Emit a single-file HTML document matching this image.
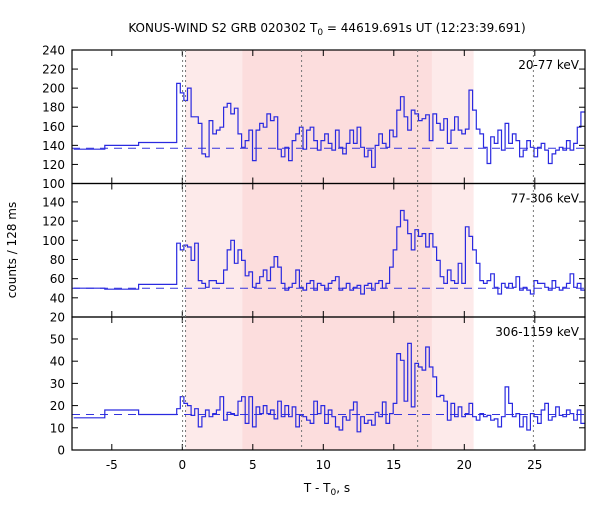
<!DOCTYPE html>
<html><head><meta charset="utf-8"><style>
body{margin:0;background:#fff;}
svg text{font-family:"DejaVu Sans","Liberation Sans",sans-serif;font-size:12px;fill:#000;}
</style></head><body>
<svg id="chart" width="600" height="500" viewBox="0 0 600 500" xmlns="http://www.w3.org/2000/svg">
<text x="327" y="32" text-anchor="middle">KONUS-WIND S2 GRB 020302 T<tspan font-size="9" dy="3">0</tspan><tspan dy="-3"> = 44619.691s UT (12:23:39.691)</tspan></text>
<text x="327" y="492" text-anchor="middle">T - T<tspan font-size="9" dy="3">0</tspan><tspan dy="-3">, s</tspan></text>
<text transform="translate(16,250) rotate(-90)" text-anchor="middle">counts / 128 ms</text>
<g id="g"></g>
</svg>
<script>
const binStart = -0.4, binWidth = 0.256;
const preEdges = [-7.7, -5.5, -3.1, -0.4];
const prePanel1 = [136, 140, 143];
const prePanel2 = [50, 49, 54];
const prePanel3 = [14.5, 18, 16];
const bgLevels = [137, 50, 16];
const panel1 = [205,195,187,200,170,170,163,131,128,166,152,156,159,180,184,173,179,152,138,145,156,124,156,163,159,173,166,170,136,128,138,124,145,152,159,136,156,159,145,135,145,152,142,135,156,138,131,142,156,142,159,138,128,135,117,140,152,142,138,156,149,177,191,170,156,177,173,166,168,172,145,173,163,156,168,142,156,170,156,152,157,198,177,157,152,138,121,149,142,156,135,163,142,152,145,128,135,145,138,128,138,142,135,121,131,135,138,135,145,135,142,159,175];
const panel2 = [97,90,95,93,79,97,58,55,51,58,58,55,55,69,90,100,76,90,79,63,67,51,55,62,69,58,72,83,72,55,48,51,55,69,51,48,55,58,48,55,53,48,55,58,62,48,50,55,48,51,53,44,53,55,48,55,58,50,55,72,90,114,131,121,107,90,111,104,107,93,107,93,79,62,55,69,58,55,76,55,114,104,90,76,58,55,58,65,51,44,55,51,55,51,62,48,51,48,44,58,55,55,51,48,58,51,48,51,55,65,51,55,48];
const panel3 = [18.6,24,21,20,15.6,18.6,10.4,15,18,15,16.4,18,24,13.4,17,16.4,15.6,22,24,12,24,10.4,19.4,16.4,20,16.4,18,14,22,15,20,15,19.4,10.4,15.6,15,13.4,12,22,16.4,20,12,18,15,10.4,9,15,13.4,18,21.6,8.2,15,12,13.4,11.2,17,15,21.6,12,16.4,21,43.4,40.4,22,48,19.4,39,37.4,36,46.4,37.4,32.9,24,24.6,22,13.4,21,15,19.4,15,16.4,21,15,13.4,16.4,15,15.6,13.4,14,10.4,15,28.4,21,15,16.4,10.4,15,9,16.4,15,12,18,21,13.4,15,19.4,15.6,15,18,16.4,13.4,18,12];
const panelLabels = ["20-77 keV","77-306 keV","306-1159 keV"];
const xTicks = [-5,0,5,10,15,20,25];
const yTicks1 = [100,120,140,160,180,200,220,240];
const yTicks2 = [20,40,60,80,100,120,140];
const yTicks3 = [0,10,20,30,40,50];
const lightRegion = [0.23, 20.66];
const darkRegion = [4.26, 17.7];
const markerTimes = [0.02, 0.23, 8.46, 16.69, 24.9];

const NS="http://www.w3.org/2000/svg";
const g=document.getElementById('g');
const L=72,R=585;
const xs=t=>182.3+t*14.1;
const panels=[
 {top:50,bot:183.5,min:100,max:240,data:panel1,pre:prePanel1,ticks:yTicks1},
 {top:183.5,bot:317,min:20,max:159.2,data:panel2,pre:prePanel2,ticks:yTicks2},
 {top:317,bot:450,min:0,max:59.9,data:panel3,pre:prePanel3,ticks:yTicks3}
];
function mk(tag,attrs,parent){const e=document.createElementNS(NS,tag);for(const k in attrs)e.setAttribute(k,attrs[k]);(parent||g).appendChild(e);return e;}

const sl=mk('rect',{x:xs(lightRegion[0]),y:50,width:xs(lightRegion[1])-xs(lightRegion[0]),height:400,fill:'#fdeaea'});


const sd=mk('rect',{x:xs(darkRegion[0]),y:50,width:xs(darkRegion[1])-xs(darkRegion[0]),height:400,fill:'#fcdddd'});



panels.forEach((p,i)=>{
  const ys=v=>p.bot-(v-p.min)/(p.max-p.min)*(p.bot-p.top);
  const bl=mk('line',{x1:L,x2:R,y1:ys(bgLevels[i]),y2:ys(bgLevels[i]),stroke:'#3333dd','stroke-width':1,'stroke-dasharray':'8,6'});
  
  
  let d='';
  for(let k=0;k<p.pre.length;k++){
    const x1=xs(preEdges[k]),x2=xs(preEdges[k+1]),y=ys(p.pre[k]);
    d+=(k===0?'M':'L')+x1.toFixed(1)+','+y.toFixed(1)+'L'+x2.toFixed(1)+','+y.toFixed(1);
  }
  for(let k=0;k<p.data.length;k++){
    const t1=binStart+k*binWidth,t2=Math.min(t1+binWidth,28.7);
    const y=ys(p.data[k]);
    d+='L'+xs(t1).toFixed(1)+','+y.toFixed(1)+'L'+xs(t2).toFixed(1)+','+y.toFixed(1);
    if(t2>=28.7)break;
  }
  const h=mk('path',{d:d,fill:'none',stroke:'#2a2ae0','stroke-width':1.2});
  
  
  const fr=mk('rect',{x:L,y:p.top,width:R-L,height:p.bot-p.top,fill:'none',stroke:'#000','stroke-width':1.2});
  
  
  p.ticks.forEach(v=>{
    const y=ys(v);
    mk('line',{x1:L,x2:L+6,y1:y,y2:y,stroke:'#000'});
    mk('line',{x1:R-6,x2:R,y1:y,y2:y,stroke:'#000'});
    const tl=mk('text',{x:L-7,y:y+4.5,'text-anchor':'end'});
    tl.textContent=v;
    
    
  });
  xTicks.forEach(t=>{
    const x=xs(t);
    mk('line',{x1:x,x2:x,y1:p.top,y2:p.top+6,stroke:'#000'});
    mk('line',{x1:x,x2:x,y1:p.bot-6,y2:p.bot,stroke:'#000'});
  });
  const lab=mk('text',{x:579,y:p.top+19,'text-anchor':'end'});
  lab.textContent=panelLabels[i];
  
  
});
markerTimes.forEach(t=>{
  const m=mk('line',{x1:xs(t),x2:xs(t),y1:50,y2:450,stroke:'#777','stroke-width':1,'stroke-dasharray':'2,3'});
  
  
});
xTicks.forEach(t=>{
  const tl=mk('text',{x:xs(t),y:469,'text-anchor':'middle'});
  tl.textContent=t;
  
  
});
</script>
</body></html>
